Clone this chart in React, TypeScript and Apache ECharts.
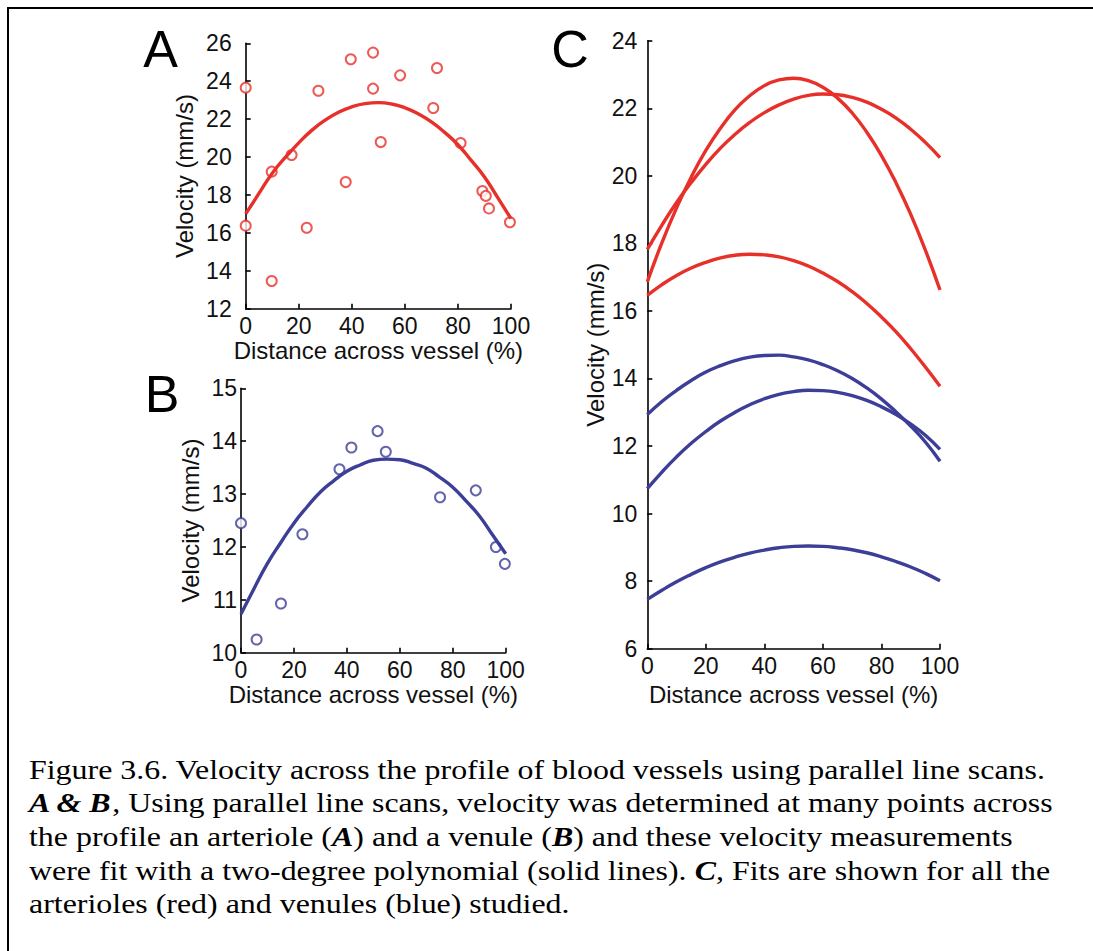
import React, { useEffect, useRef } from "react";
import * as echarts from "echarts";

const fitX = [0, 5, 10, 15, 20, 25, 30, 35, 40, 45, 50, 55, 60, 65, 70, 75, 80, 85, 90, 95, 100];

// Panel A: arteriole measurements
const aPointsX = [0, 0, 9.8, 9.8, 17.3, 23, 27.4, 37.7, 39.6, 48, 48, 50.9, 58.2, 70.7, 72.1, 81, 89.2, 90.5, 91.7, 99.6];
const aPointsY = [23.66, 16.38, 19.23, 13.46, 20.11, 16.27, 23.5, 18.68, 25.16, 25.51, 23.61, 20.79, 24.31, 22.59, 24.7, 20.74, 18.21, 17.95, 17.29, 16.56];
const aFitY = [17.0, 18.08, 19.15, 19.99, 20.75, 21.42, 21.95, 22.36, 22.65, 22.82, 22.87, 22.8, 22.6, 22.29, 21.85, 21.3, 20.65, 19.82, 18.95, 17.86, 16.75];

// Panel B: venule measurements
const bPointsX = [0, 5.9, 15.1, 23.2, 37.2, 41.7, 51.6, 54.7, 75.2, 88.7, 96.3, 99.7];
const bPointsY = [12.45, 10.25, 10.93, 12.24, 13.47, 13.88, 14.19, 13.8, 12.94, 13.07, 12.0, 11.68];
const bFitY = [10.73, 11.22, 11.69, 12.08, 12.45, 12.76, 13.04, 13.25, 13.43, 13.55, 13.64, 13.66, 13.65, 13.58, 13.49, 13.32, 13.13, 12.87, 12.59, 12.23, 11.87];

// Panel C: fits for all arterioles (red) and venules (blue)
const cRed1 = [16.86, 18.02, 19.05, 19.96, 20.75, 21.41, 21.96, 22.37, 22.67, 22.84, 22.89, 22.82, 22.62, 22.3, 21.86, 21.29, 20.6, 19.79, 18.86, 17.8, 16.62];
const cRed2 = [17.82, 18.54, 19.21, 19.8, 20.34, 20.82, 21.23, 21.58, 21.87, 22.1, 22.27, 22.38, 22.42, 22.4, 22.32, 22.18, 21.97, 21.71, 21.38, 20.99, 20.54];
const cRed3 = [16.46, 16.78, 17.05, 17.27, 17.44, 17.57, 17.65, 17.68, 17.66, 17.6, 17.49, 17.33, 17.12, 16.87, 16.57, 16.22, 15.82, 15.38, 14.88, 14.34, 13.77];
const cBlue1 = [12.93, 13.32, 13.65, 13.94, 14.19, 14.38, 14.53, 14.63, 14.68, 14.69, 14.64, 14.55, 14.41, 14.23, 14.0, 13.72, 13.39, 13.01, 12.59, 12.12, 11.55];
const cBlue2 = [10.74, 11.23, 11.68, 12.08, 12.43, 12.74, 13.0, 13.22, 13.4, 13.53, 13.61, 13.65, 13.64, 13.59, 13.49, 13.35, 13.16, 12.93, 12.65, 12.32, 11.9];
const cBlue3 = [7.46, 7.73, 7.98, 8.2, 8.4, 8.57, 8.71, 8.83, 8.92, 8.99, 9.03, 9.04, 9.03, 8.99, 8.93, 8.84, 8.72, 8.58, 8.42, 8.23, 8.01];

const xName = "Distance across vessel (%)";
const yName = "Velocity (mm/s)";

const captionLines = [
  "Figure 3.6. Velocity across the profile of blood vessels using parallel line scans.",
  "{bi|A & B}, Using parallel line scans, velocity was determined at many points across",
  "the profile an arteriole ({bi|A}) and a venule ({bi|B}) and these velocity measurements",
  "were fit with a two-degree polynomial (solid lines). {bi|C}, Fits are shown for all the",
  "arterioles (red) and venules (blue) studied.",
];

const RED = "#e8302a";
const BLUE = "#3c3e97";
const SANS = "'Liberation Sans', Arial, Helvetica, sans-serif";
const SERIF = "'Liberation Serif', 'Times New Roman', serif";

const pairs = (xs: number[], ys: number[]) => xs.map((x, i) => [x, ys[i]]);

function axis(
  gridIndex: number,
  min: number,
  max: number,
  interval: number,
  name: string,
  nameGap: number,
  labelMargin: number
) {
  return {
    gridIndex,
    type: "value",
    min,
    max,
    interval,
    axisLine: { show: true, onZero: false, lineStyle: { color: "#000", width: 1.6 } },
    axisTick: { show: true, inside: true, length: 5, lineStyle: { color: "#000", width: 1.6 } },
    axisLabel: { color: "#111", fontSize: 23, fontFamily: SANS, margin: labelMargin },
    splitLine: { show: false },
    name,
    nameLocation: "middle",
    nameGap,
    nameTextStyle: { color: "#111", fontSize: 24, fontFamily: SANS },
  };
}

function fitLine(xi: number, yi: number, ys: number[], color: string) {
  return {
    type: "line",
    xAxisIndex: xi,
    yAxisIndex: yi,
    data: pairs(fitX, ys),
    smooth: true,
    showSymbol: false,
    symbol: "none",
    lineStyle: { color, width: 3.4 },
    z: 3,
  };
}

function scatter(xi: number, yi: number, xs: number[], ys: number[], color: string) {
  return {
    type: "scatter",
    xAxisIndex: xi,
    yAxisIndex: yi,
    data: pairs(xs, ys),
    symbol: "emptyCircle",
    symbolSize: 10,
    itemStyle: { color, borderColor: color, borderWidth: 1.7 },
    z: 2,
  };
}

export default function App() {
  const ref = useRef<HTMLDivElement>(null);

  useEffect(() => {
    if (!ref.current) return;
    const chart = echarts.init(ref.current, undefined, { renderer: "svg" });

    const captionY = [768.8, 802.2, 836.2, 869.8, 903.2];

    const option: any = {
      animation: false,
      backgroundColor: "#fff",
      grid: [
        { left: 245.7, top: 43.3, width: 265.3, height: 265.4 },
        { left: 241, top: 388.3, width: 264.7, height: 264.4 },
        { left: 647.3, top: 40.7, width: 292.7, height: 608 },
      ],
      xAxis: [
        axis(0, 0, 100, 20, xName, 29, 6),
        axis(1, 0, 100, 20, xName, 30, 6),
        axis(2, 0, 100, 20, xName, 34, 6),
      ],
      yAxis: [
        axis(0, 12, 26, 2, yName, 49, 14),
        axis(1, 10, 15, 1, yName, 39, 4),
        axis(2, 6, 24, 2, yName, 38, 10),
      ],
      series: [
        scatter(0, 0, aPointsX, aPointsY, RED),
        fitLine(0, 0, aFitY, RED),
        scatter(1, 1, bPointsX, bPointsY, BLUE),
        fitLine(1, 1, bFitY, BLUE),
        fitLine(2, 2, cRed1, RED),
        fitLine(2, 2, cRed2, RED),
        fitLine(2, 2, cRed3, RED),
        fitLine(2, 2, cBlue1, BLUE),
        fitLine(2, 2, cBlue2, BLUE),
        fitLine(2, 2, cBlue3, BLUE),
      ],
      graphic: [
        {
          type: "rect",
          shape: { x: 8, y: 8, width: 1200, height: 1200 },
          style: { fill: "none", stroke: "#000", lineWidth: 2 },
          silent: true,
        },
        {
          type: "text",
          x: 160.5,
          y: 48.5,
          style: { text: "A", fontSize: 52, fontFamily: SANS, fill: "#000", align: "center", verticalAlign: "middle" },
        },
        {
          type: "text",
          x: 162,
          y: 394,
          style: { text: "B", fontSize: 52, fontFamily: SANS, fill: "#000", align: "center", verticalAlign: "middle" },
        },
        {
          type: "text",
          x: 570,
          y: 49,
          style: { text: "C", fontSize: 52, fontFamily: SANS, fill: "#000", align: "center", verticalAlign: "middle" },
        },
        ...captionLines.map((t, i) => ({
          type: "text",
          x: 29,
          y: captionY[i],
          scaleX: 1.14,
          style: {
            text: t,
            fontSize: 28,
            fontFamily: SERIF,
            fill: "#000",
            align: "left",
            verticalAlign: "middle",
            rich: {
              bi: { fontSize: 28, fontFamily: SERIF, fontWeight: "bold", fontStyle: "italic", fill: "#000" },
            },
          },
        })),
      ],
    };

    chart.setOption(option);
    return () => chart.dispose();
  }, []);

  return (
    <div
      ref={ref}
      style={{ position: "absolute", left: 0, top: 0, width: 1093, height: 951 }}
    />
  );
}
